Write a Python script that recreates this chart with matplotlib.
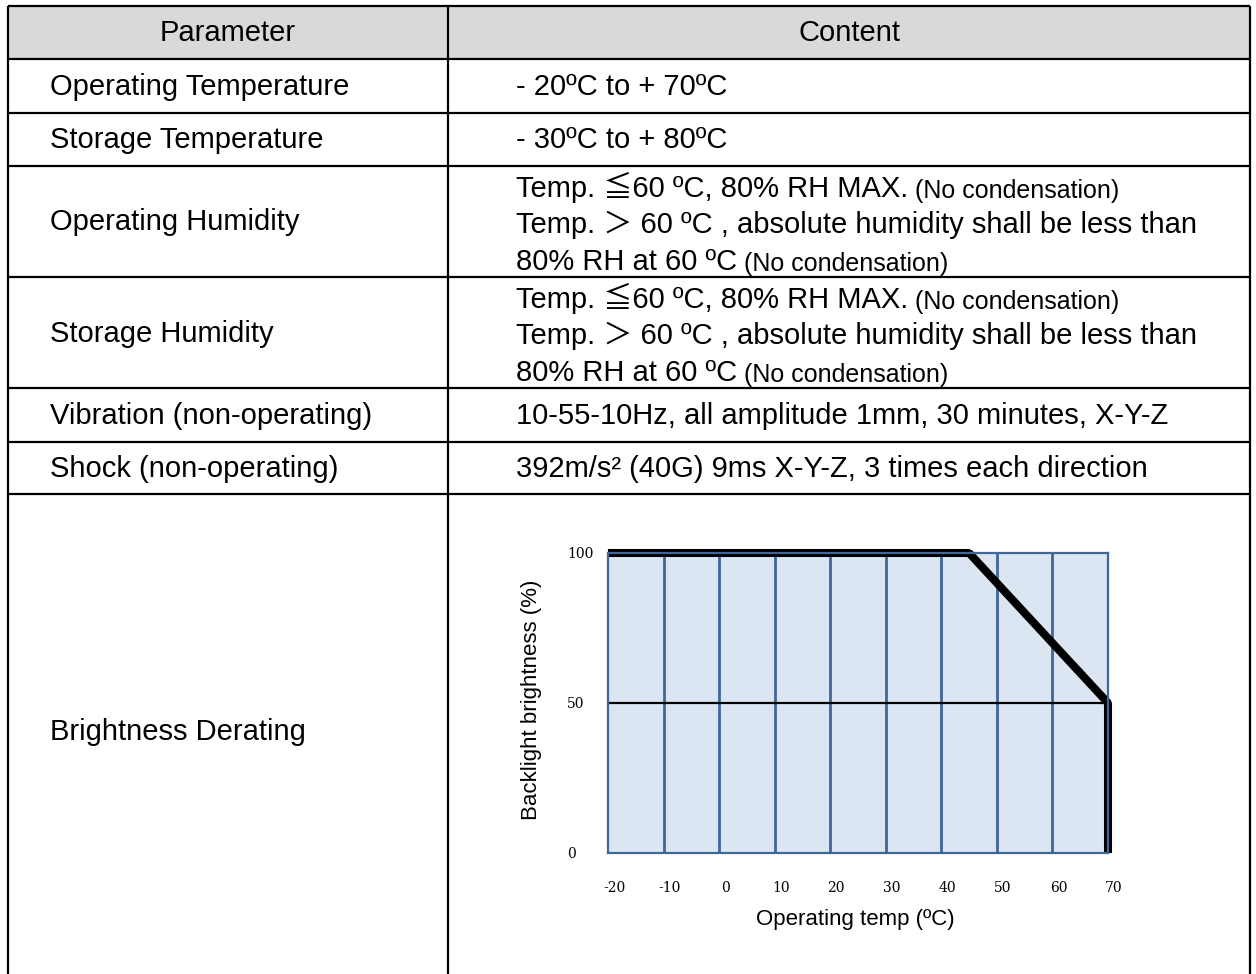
import matplotlib
matplotlib.use('Agg')
import matplotlib.pyplot as plt
from matplotlib.transforms import ScaledTranslation

# table content
headers = ['Parameter', 'Content']
params = ['Operating Temperature', 'Storage Temperature', 'Operating Humidity',
          'Storage Humidity', 'Vibration (non-operating)', 'Shock (non-operating)',
          'Brightness Derating']
humidity_lines = [('Temp. ≦60 ºC, 80% RH MAX.', ' (No condensation)'),
                  ('Temp. ＞ 60 ºC , absolute humidity shall be less than', ''),
                  ('80% RH at 60 ºC', ' (No condensation)')]
contents = ['- 20ºC to + 70ºC', '- 30ºC to + 80ºC', humidity_lines, humidity_lines,
            '10-55-10Hz, all amplitude 1mm, 30 minutes, X-Y-Z',
            '392m/s² (40G) 9ms X-Y-Z, 3 times each direction', None]

# derating curve
temps = [-20, 45, 70, 70]
brightness = [100, 100, 50, 0]
x_ticks = [-20, -10, 0, 10, 20, 30, 40, 50, 60, 70]
x_labels = ['-20', '-10', '0', '10', '20', '30', '40', '50', '60', '70']
y_ticks = [0, 50, 100]

W, H = 1256, 974
SANS = ['Liberation Sans', 'Noto Sans CJK JP', 'DejaVu Sans']
row_lines = [6, 59, 113, 166, 277, 388, 442, 494]
col_x = [8, 448, 1250]

fig = plt.figure(figsize=(W / 100, H / 100), dpi=100)
ax = fig.add_axes([0, 0, 1, 1])
ax.set_xlim(0, W)
ax.set_ylim(H, 0)
ax.axis('off')

# header background
ax.fill_between([col_x[0], col_x[2]], row_lines[0], row_lines[1], color='#d9d9d9', lw=0)
for y in row_lines:
    ax.plot([col_x[0], col_x[2]], [y, y], color='black', lw=1.6, solid_capstyle='butt')
for x in col_x:
    ax.plot([x, x], [row_lines[0], H], color='black', lw=1.6, solid_capstyle='butt')

ax.text(228, 33, headers[0], ha='center', va='center', fontsize=21, family=SANS)
ax.text(849, 33, headers[1], ha='center', va='center', fontsize=21, family=SANS)

for i, (p, c) in enumerate(zip(params, contents)):
    top = row_lines[i + 1]
    bot = row_lines[i + 2] if i + 2 < len(row_lines) else 968
    yc = (top + bot) / 2
    ax.text(50, yc + 1, p, ha='left', va='center', fontsize=21, family=SANS)
    if c is None:
        continue
    if isinstance(c, list):
        for j, (big, small) in enumerate(c):
            yl = top + 21 + j * 37.5
            t = ax.text(516, yl, big, ha='left', va='center', fontsize=21, family=SANS)
            if small:
                ax.annotate(small, xy=(1, 0), xycoords=t, ha='left', va='bottom',
                            fontsize=18, family=SANS)
    else:
        ax.text(516, yc + 1, c, ha='left', va='center', fontsize=21, family=SANS)

# derating chart
cax = fig.add_axes([608 / W, (H - 853) / H, 500 / W, 300 / H])
cax.set_facecolor('#dce6f2')
cax.set_xlim(-20, 70)
cax.set_ylim(0, 100)
for s in cax.spines.values():
    s.set_color('#41669a')
    s.set_linewidth(1.6)
cax.vlines(x_ticks[1:-1], 0, 100, color='#41669a', lw=2)
cax.axhline(50, color='black', lw=1.6)
cax.plot(temps, brightness, color='black', lw=5.8, clip_on=False, solid_capstyle='butt',
         solid_joinstyle='bevel')
cax.set_xticks(x_ticks)
cax.set_xticklabels(x_labels, fontfamily='DejaVu Serif', fontsize=10)
cax.set_yticks(y_ticks)
cax.set_yticklabels([str(v) for v in y_ticks], fontfamily='DejaVu Serif', fontsize=10)
cax.tick_params(axis='x', length=0, pad=20)
cax.tick_params(axis='y', length=0, pad=29.5)
shift = ScaledTranslation(0.06, 0, fig.dpi_scale_trans)
for lab in cax.get_xticklabels():
    lab.set_transform(lab.get_transform() + shift)
for lab in cax.get_yticklabels():
    lab.set_horizontalalignment('left')

fig.text(532 / W, 1 - 700 / H, 'Backlight brightness (%)', rotation=90, ha='center',
         va='center', fontsize=16, family=SANS)
fig.text(855 / W, 1 - 920 / H, 'Operating temp (ºC)', ha='center', va='center',
         fontsize=16, family=SANS)

fig.savefig('out.png', dpi=100)
